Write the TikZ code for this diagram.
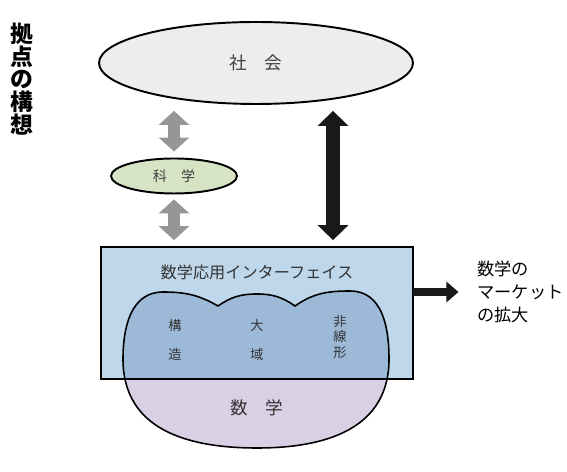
\documentclass[tikz,border=0pt]{standalone}
\usepackage{fontspec}
\setmainfont{Noto Sans CJK JP}
\usetikzlibrary{shapes.geometric,arrows.meta}

\definecolor{socgray}{RGB}{236,238,238}
\definecolor{scigreen}{RGB}{214,227,197}
\definecolor{ifaceblue}{RGB}{190,215,235}
\definecolor{beanblue}{RGB}{156,185,216}
\definecolor{beanlilac}{RGB}{217,208,230}
\definecolor{arrowgray}{RGB}{150,150,150}

\tikzset{
  grayarrow/.style={draw=arrowgray, line width=6.8pt,
    {Triangle[width=17pt,length=8pt]}-{Triangle[width=17pt,length=8pt]}},
  blackarrow/.style={draw=black!90, line width=7.5pt,
    {Triangle[width=17pt,length=8.5pt]}-{Triangle[width=17pt,length=8.5pt]}},
  outarrow/.style={draw=black!90, line width=5pt,
    -{Triangle[width=11.5pt,length=7pt]}},
  blobtext/.style={font=\fontsize{7.5}{9.5}\selectfont, align=center, text=black!80}
}

\newcommand{\beanoutline}{(218,166) to[out=150,in=0] (163,180) to[out=180,in=90,looseness=1.05] (123,113)
  to[out=-90,in=180,looseness=1.12] (257,24) to[out=0,in=-90,looseness=1.12] (389,113)
  to[out=90,in=0,looseness=1.05] (350,181)
  to[out=180,in=35] (295,166) to[out=145,in=0] (257,178) to[out=180,in=35] (218,166) -- cycle}

\begin{document}
\begin{tikzpicture}[x=0.02cm,y=0.02cm]
\useasboundingbox (0,0) rectangle (567,472);

\node [font=\bfseries\fontsize{13}{13}\selectfont, align=center] (title) at (22,393) {拠\\点\\の\\構\\想};

\node [ellipse, draw, line width=1.1pt, fill=socgray, minimum width=6.28cm, minimum height=1.64cm,
  font=\fontsize{10}{12}\selectfont, text=black!75] (society) at (256,409) {社　会};
\node [ellipse, draw, line width=1.1pt, fill=scigreen, minimum width=2.52cm, minimum height=0.68cm,
  font=\fontsize{8}{10}\selectfont, text=black!75] (science) at (174,296) {科　学};

% interface box and the bean
\node [rectangle, fill=ifaceblue, minimum width=6.24cm, minimum height=2.62cm] (iface) at (257,159) {};
\begin{scope}
\clip \beanoutline;
\fill [beanblue] (100,94) rectangle (420,300);
\fill [beanlilac] (100,0) rectangle (420,94);
\end{scope}
\draw [line width=0.9pt] \beanoutline;
\draw [line width=1.1pt] (iface.south west) rectangle (iface.north east);

\node [font=\fontsize{9.2}{11}\selectfont, text=black!80] (ifacelabel) at (257,200) {数学応用インターフェイス};
\node [blobtext, font=\fontsize{7.5}{17}\selectfont] (kozo) at (175,132) {構\\造};
\node [blobtext, font=\fontsize{7.5}{17}\selectfont] (daiiki) at (257,132) {大\\域};
\node [blobtext, font=\fontsize{7.5}{9}\selectfont] (hisenkei) at (340,135) {非\\線\\形};
\node [font=\fontsize{10}{12}\selectfont, text=black!80] (math) at (257,64) {数　学};

\node [anchor=west, inner sep=0pt, align=left, font=\fontsize{9.8}{13}\selectfont] (market) at (477,180)
  {数学の\\マーケット\\の拡大};

% arrows
\coordinate (bx) at (333,0);
\draw [grayarrow, shorten <=3.4pt, shorten >=3.4pt] (science.north) -- (science.north |- society.south);
\draw [grayarrow, shorten <=2.8pt, shorten >=4pt] (science.south) -- (science.south |- iface.north);
\draw [blackarrow, shorten <=3.4pt, shorten >=4pt] (bx |- society.south) -- (bx |- iface.north);
\draw [outarrow, shorten >=10.5pt] (iface.east |- market.west) -- (market.west);

\end{tikzpicture}
\end{document}
